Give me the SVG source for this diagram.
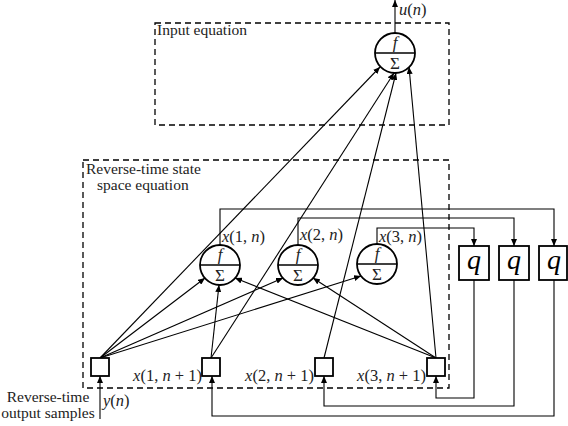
<svg xmlns="http://www.w3.org/2000/svg" width="568" height="426" viewBox="0 0 568 426">
<defs>
<marker id="ah" markerUnits="userSpaceOnUse" markerWidth="8" markerHeight="6" refX="7" refY="3" orient="auto">
<path d="M0,0 L7,3 L0,6 z" fill="#000"/>
</marker>
<style>
.dash{fill:none;stroke:#000;stroke-width:1.3;stroke-dasharray:6,4}
.ln{fill:none;stroke:#000;stroke-width:1.1}
.ar{fill:none;stroke:#000;stroke-width:1.1;marker-end:url(#ah)}
.nd{fill:#fff;stroke:#000;stroke-width:1.8}
.sep{stroke:#000;stroke-width:1.6}
.t{font-family:"Liberation Serif","DejaVu Serif",serif;font-size:15.5px;fill:#222}
.m{font-family:"Liberation Serif","DejaVu Serif",serif;font-size:16.5px;fill:#222}
.i{font-style:italic}
.f{font-family:"Liberation Serif","DejaVu Serif",serif;font-size:17px;font-style:italic;text-anchor:middle;fill:#222}
.s{font-family:"Liberation Serif","DejaVu Serif",serif;font-size:17px;text-anchor:middle;fill:#222}
.q{font-family:"Liberation Serif","DejaVu Serif",serif;font-size:28px;font-style:italic;text-anchor:middle;fill:#000}
</style>
</defs>

<g id="input-equation-box">
<rect class="dash" x="155" y="23" width="294" height="102"/>
<text class="t" x="157" y="35">Input equation</text>
</g>
<g id="state-equation-box">
<rect class="dash" x="83" y="160" width="366" height="228"/>
<text class="t" x="86" y="174">Reverse-time state</text>
<text class="t" x="97" y="190">space equation</text>
</g>

<g id="connectors">
<line class="ar" x1="100" y1="358" x2="380" y2="67"/>
<line class="ar" x1="211" y1="358" x2="394" y2="73"/>
<line class="ar" x1="324" y1="358" x2="396" y2="73"/>
<line class="ar" x1="436" y1="358" x2="409" y2="67"/>
<line class="ar" x1="100" y1="358" x2="205" y2="278"/>
<line class="ar" x1="100" y1="358" x2="283" y2="278"/>
<line class="ar" x1="100" y1="358" x2="361" y2="276"/>
<line class="ar" x1="211" y1="358" x2="219" y2="285"/>
<line class="ar" x1="436" y1="358" x2="235" y2="278"/>
<line class="ar" x1="436" y1="358" x2="313" y2="278"/>
<polyline class="ar" points="220,245 220,209 554,209 554,246"/>
<polyline class="ar" points="298,245 298,218 514,218 514,246"/>
<polyline class="ar" points="377,244 377,228 474,228 474,246"/>
<polyline class="ar" points="474,280 474,398 436,398 436,376"/>
<polyline class="ar" points="514,280 514,406 324,406 324,376"/>
<polyline class="ar" points="554,280 554,416 212,416 212,376"/>
<line class="ar" x1="100" y1="419" x2="100" y2="376"/>
<line class="ar" x1="395" y1="33" x2="395" y2="0"/>
</g>

<g id="sum-input">
<circle class="nd" cx="395" cy="53" r="20"/>
<line class="sep" x1="375" y1="53" x2="415" y2="53"/>
<text class="f" x="395" y="48">f</text>
<text class="s" x="395" y="69">Σ</text>
</g>
<text class="m" x="399" y="15"><tspan class="i">u</tspan>(<tspan class="i">n</tspan>)</text>

<g id="state1">
<circle class="nd" cx="220" cy="265" r="20"/>
<line class="sep" x1="200" y1="265" x2="240" y2="265"/>
<text class="f" x="220" y="260">f</text>
<text class="s" x="220" y="281">Σ</text>
<text class="m" x="222" y="242"><tspan class="i">x</tspan>(1, <tspan class="i">n</tspan>)</text>
</g>
<g id="state2">
<circle class="nd" cx="298" cy="265" r="20"/>
<line class="sep" x1="278" y1="265" x2="318" y2="265"/>
<text class="f" x="298" y="260">f</text>
<text class="s" x="298" y="281">Σ</text>
<text class="m" x="300" y="240"><tspan class="i">x</tspan>(2, <tspan class="i">n</tspan>)</text>
</g>
<g id="state3">
<circle class="nd" cx="377" cy="264" r="20"/>
<line class="sep" x1="357" y1="264" x2="397" y2="264"/>
<text class="f" x="377" y="259">f</text>
<text class="s" x="377" y="280">Σ</text>
<text class="m" x="379" y="242"><tspan class="i">x</tspan>(3, <tspan class="i">n</tspan>)</text>
</g>

<g id="delay1">
<rect class="nd" x="459" y="246" width="30" height="34"/>
<text class="q" x="474" y="269">q</text>
</g>
<g id="delay2">
<rect class="nd" x="499" y="246" width="30" height="34"/>
<text class="q" x="514" y="269">q</text>
</g>
<g id="delay3">
<rect class="nd" x="539" y="246" width="28" height="34"/>
<text class="q" x="554" y="269">q</text>
</g>

<g id="sample-y">
<rect class="nd" x="91" y="358" width="18" height="18"/>
<text class="t" x="48" y="402" text-anchor="middle">Reverse-time</text>
<text class="t" x="48" y="418" text-anchor="middle">output samples</text>
<text class="m" x="103" y="406"><tspan class="i">y</tspan>(<tspan class="i">n</tspan>)</text>
</g>
<g id="sample-x1">
<rect class="nd" x="202" y="358" width="18" height="18"/>
<text class="m" x="202" y="381" text-anchor="end"><tspan class="i">x</tspan>(1, <tspan class="i">n</tspan> + 1)</text>
</g>
<g id="sample-x2">
<rect class="nd" x="315" y="358" width="18" height="18"/>
<text class="m" x="314" y="381" text-anchor="end"><tspan class="i">x</tspan>(2, <tspan class="i">n</tspan> + 1)</text>
</g>
<g id="sample-x3">
<rect class="nd" x="427" y="358" width="18" height="18"/>
<text class="m" x="426" y="381" text-anchor="end"><tspan class="i">x</tspan>(3, <tspan class="i">n</tspan> + 1)</text>
</g>
</svg>
